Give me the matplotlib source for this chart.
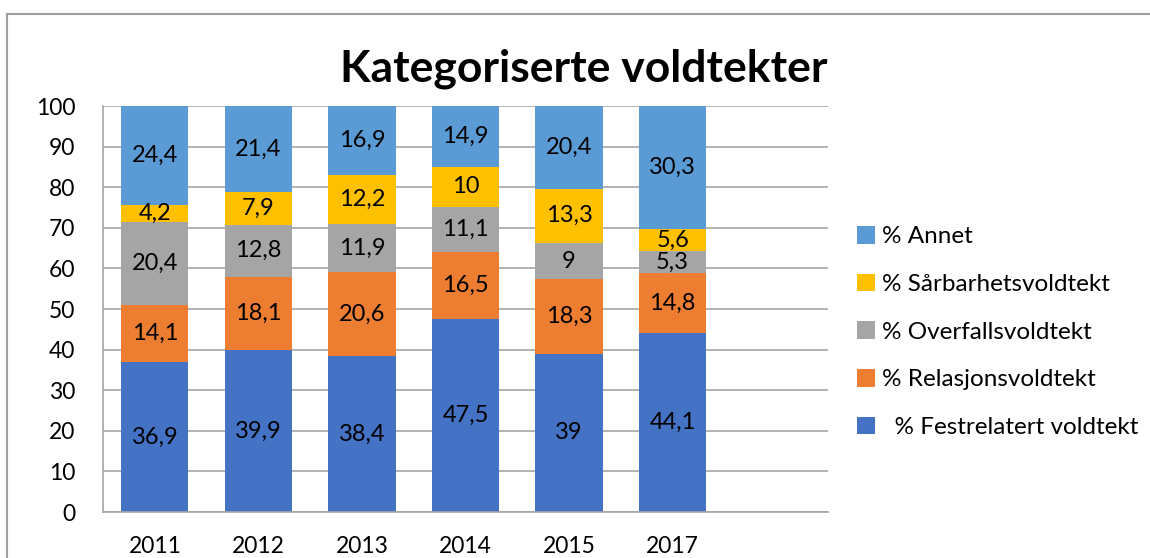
import numpy as np
import matplotlib.pyplot as plt
from matplotlib.lines import Line2D

plt.rcParams['font.family'] = ['Lato', 'DejaVu Sans']

years = ['2011', '2012', '2013', '2014', '2015', '2017']
fest = [36.9, 39.9, 38.4, 47.5, 39, 44.1]
rel = [14.1, 18.1, 20.6, 16.5, 18.3, 14.8]
overf = [20.4, 12.8, 11.9, 11.1, 9, 5.3]
sarb = [4.2, 7.9, 12.2, 10, 13.3, 5.6]
annet = [24.4, 21.4, 16.9, 14.9, 20.4, 30.3]

series = [fest, rel, overf, sarb, annet]
names = ['  % Festrelatert voldtekt', '% Relasjonsvoldtekt', '% Overfallsvoldtekt',
         '% Sårbarhetsvoldtekt', '% Annet']
colors = ['#4472C4', '#ED7D31', '#A5A5A5', '#FFC000', '#5B9BD5']

fig = plt.figure(figsize=(11.5, 5.58), dpi=100)
ax = fig.add_axes([0.0896, 0.0824, 0.6304, 0.7276])

x = np.arange(len(years))
bottom = np.zeros(len(years))
handles = []
for vals, name, c in zip(series, names, colors):
    v = np.array(vals)
    bars = ax.bar(x, v, 0.65, bottom=bottom, color=c, label=name, zorder=2)
    for xi, b, val in zip(x, bottom, v):
        ax.text(xi, b + val / 2, ('%g' % val).replace('.', ','), ha='center', va='center',
                fontsize=17, color='black', zorder=3, clip_on=True)
    bottom += v
    handles.append(bars)

ax.set_xlim(-0.5, 6.5)
ax.set_ylim(0, 100)
ax.set_yticks(range(0, 101, 10))
ax.set_xticks(x)
ax.set_xticklabels(years)
ax.tick_params(axis='both', length=0, labelsize=16.5)
ax.tick_params(axis='x', pad=17)
ax.tick_params(axis='y', pad=20)
ax.grid(axis='y', color='#a6a6a6', linewidth=1.2, zorder=0)
for s in ['top', 'right']:
    ax.spines[s].set_visible(False)
ax.spines['left'].set_color('#a6a6a6')
ax.spines['bottom'].set_color('#a6a6a6')
ax.spines['left'].set_linewidth(1.2)
ax.spines['bottom'].set_linewidth(1.2)

fig.text(0.508, 0.876, 'Kategoriserte voldtekter', ha='center', va='center',
         fontsize=32, fontweight='bold')

leg = fig.legend(handles[::-1], names[::-1], loc='center left', bbox_to_anchor=(0.726, 0.405),
                 frameon=False, fontsize=17.5, handlelength=0.75, handleheight=0.75,
                 handletextpad=0.3, labelspacing=1.08)

# outer chart border (only top and left visible in the crop)
fig.add_artist(Line2D([0.006, 1.0], [0.975, 0.975], transform=fig.transFigure, color='#a0a0a0', lw=1.5))
fig.add_artist(Line2D([0.006, 0.006], [0.0, 0.975], transform=fig.transFigure, color='#a0a0a0', lw=1.5))

fig.savefig('out.png', dpi=100)
